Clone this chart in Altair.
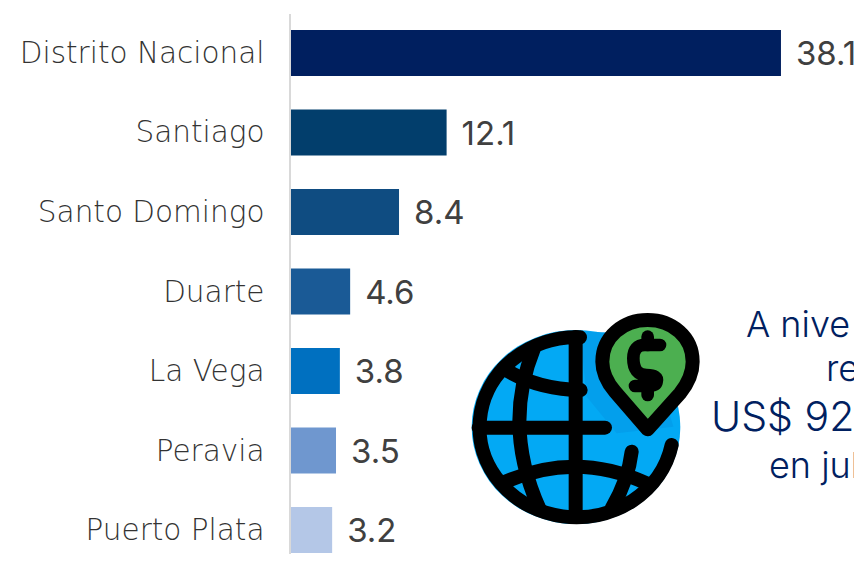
import altair as alt
import pandas as pd
from urllib.parse import quote

categories = ["Distrito Nacional", "Santiago", "Santo Domingo", "Duarte", "La Vega", "Peravia", "Puerto Plata"]
values = [38.1, 12.1, 8.4, 4.6, 3.8, 3.5, 3.2]
colors = ["#001F5F", "#023E6C", "#0F4C81", "#1A5A96", "#0070C0", "#6F97CF", "#B4C7E7"]
note_lines = ["A nive", "re", "US$ 92", "en jul"]
note_x = [455, 535, 420, 478]
note_y = [329, 373, 423, 470]
note_size = [36, 36, 41, 36]

FONT = "Inter"
LABEL_FONT = "DejaVu Sans"
df = pd.DataFrame({"cat": categories, "val": values, "col": colors})
notes = pd.DataFrame({"t": note_lines, "px": note_x, "py": note_y, "fs": note_size})

icon = """<svg xmlns='http://www.w3.org/2000/svg' viewBox='0 0 1206 720'>
<ellipse cx='348' cy='381' rx='313' ry='291' fill='#03A9F4'/>
<path d='M360 95 L560 100 L640 380 L470 400 L380 290 Z' fill='#039FEC'/>
<g fill='none' stroke='#000' stroke-width='42' stroke-linecap='round' stroke-linejoin='round'>
<path d='M360 112 A291 270 0 1 0 635 435'/>
<path d='M347 111 V651'/>
<path d='M56 383 H435'/>
<path d='M222 145 Q126 380 240 630'/>
<path d='M130 205 Q230 268 362 270'/>
<path d='M125 550 Q345 450 560 550'/>
<path d='M515 455 Q505 540 455 625'/>
<path d='M563 388 L465 275 Q427 230 427 185 C427 110 490 60 563 60 C636 60 698 110 698 185 C698 225 680 255 660 280 Z' fill='#4CAF50'/>
</g>
<g fill='none' stroke='#000' stroke-width='38' stroke-linecap='round' stroke-linejoin='round'>
<path d='M600 135 H555 Q520 135 520 175 Q520 225 560 225 Q595 225 590 245 Q588 258 560 258 H525'/>
<path d='M563 110 V135'/>
<path d='M563 258 V285'/>
</g>
</svg>"""
icon_url = "data:image/svg+xml," + quote(icon)

x = alt.X("val:Q", scale=alt.Scale(domain=[0, 563 / 12.86], nice=False), axis=None)
y = alt.Y("cat:N", sort=categories,
          scale=alt.Scale(domain=categories, range=[5.25, 561.75], paddingInner=0.421, paddingOuter=0.21),
          axis=alt.Axis(title=None, domain=False, ticks=False, labelFont=LABEL_FONT, labelFontSize=29.5,
                        labelFontWeight=300, labelColor="#333333", labelPadding=27, labelLimit=280, labelOffset=1))

bars = alt.Chart(df).mark_bar().encode(x=x, y=y, color=alt.Color("col:N", scale=None))
labels = alt.Chart(df).mark_text(align="left", dx=15, dy=2, font=FONT, fontSize=33, color="#404040").encode(
    x=x, y=y, text=alt.Text("val:Q", format=".1f"))
rule = alt.Chart(df).mark_rule(color="#D9D9D9", strokeWidth=2).encode(
    x=alt.value(-1), y=alt.value(6), y2=alt.value(546))
image = alt.Chart(alt.Data(values=[{"a": 1}])).mark_image(url=icon_url, width=402, height=240).encode(
    x=alt.value(370), y=alt.value(412))
note = alt.Chart(notes).mark_text(align="left", baseline="alphabetic", font=FONT, fontWeight=300, color="#002060").encode(
    x=alt.X("px:Q", scale=None), y=alt.Y("py:Q", scale=None), text="t:N",
    size=alt.Size("fs:Q", scale=None))

chart = alt.layer(rule, bars, labels, image, note).resolve_scale(x="independent", y="independent").properties(
    width=563, height=546,
    autosize=alt.AutoSizeParams(type="none"),
    padding={"left": 283, "top": 0, "right": 0, "bottom": 0},
).configure_view(stroke=None)

chart.save("out.html", embed_options={"renderer": "svg", "actions": False})
